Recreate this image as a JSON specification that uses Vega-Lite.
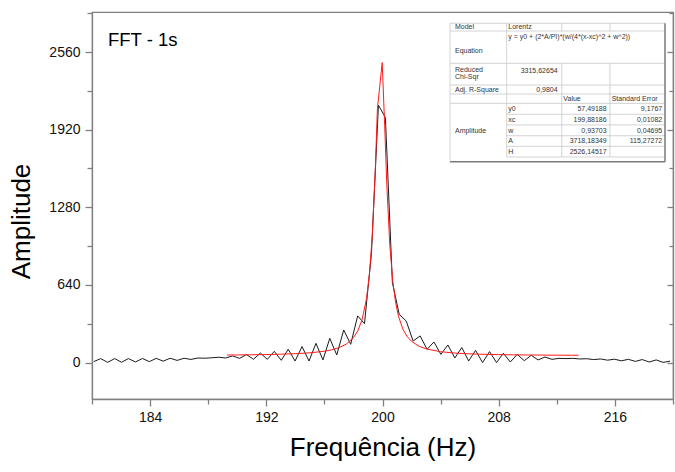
{
  "$schema": "https://vega.github.io/schema/vega-lite/v6.json",
  "width": 581,
  "height": 387,
  "autosize": {"type": "none"},
  "padding": {"left": 92, "top": 12, "right": 2, "bottom": 73},
  "background": "white",
  "config": {
    "view": {"stroke": "#808080", "strokeWidth": 1.2},
    "font": "Liberation Sans",
    "axis": {
      "grid": false,
      "domainColor": "#808080",
      "domainWidth": 1.3,
      "tickColor": "#808080",
      "tickWidth": 1.3,
      "labelColor": "#111111",
      "labelFont": "Liberation Sans",
      "labelFontSize": 14,
      "titleFont": "Liberation Sans",
      "titleFontWeight": "normal",
      "titleColor": "#000000"
    }
  },
  "datasets": {
    "fft": [
      {"f": 180.12, "amp": 8}, {"f": 180.60, "amp": 33}, {"f": 181.08, "amp": 2}, {"f": 181.56, "amp": 33},
      {"f": 182.03, "amp": 3}, {"f": 182.51, "amp": 33}, {"f": 182.99, "amp": 5}, {"f": 183.47, "amp": 34},
      {"f": 183.95, "amp": 8}, {"f": 184.42, "amp": 35}, {"f": 184.90, "amp": 12}, {"f": 185.38, "amp": 36},
      {"f": 185.86, "amp": 18}, {"f": 186.34, "amp": 36}, {"f": 186.81, "amp": 26}, {"f": 187.29, "amp": 38},
      {"f": 187.77, "amp": 36}, {"f": 188.25, "amp": 40}, {"f": 188.73, "amp": 44}, {"f": 189.20, "amp": 38},
      {"f": 189.68, "amp": 55}, {"f": 190.16, "amp": 35}, {"f": 190.64, "amp": 66}, {"f": 191.12, "amp": 27},
      {"f": 191.59, "amp": 79}, {"f": 192.07, "amp": 27}, {"f": 192.55, "amp": 93}, {"f": 193.03, "amp": 19},
      {"f": 193.51, "amp": 110}, {"f": 193.98, "amp": 13}, {"f": 194.46, "amp": 132}, {"f": 194.94, "amp": 13},
      {"f": 195.42, "amp": 159}, {"f": 195.90, "amp": 22}, {"f": 196.37, "amp": 200}, {"f": 196.85, "amp": 63},
      {"f": 197.33, "amp": 269}, {"f": 197.81, "amp": 151}, {"f": 198.29, "amp": 385}, {"f": 198.76, "amp": 321},
      {"f": 199.24, "amp": 900}, {"f": 199.72, "amp": 2122}, {"f": 200.20, "amp": 2020}, {"f": 200.68, "amp": 660},
      {"f": 201.15, "amp": 398}, {"f": 201.63, "amp": 343}, {"f": 202.11, "amp": 178}, {"f": 202.59, "amp": 220},
      {"f": 203.07, "amp": 110}, {"f": 203.54, "amp": 170}, {"f": 204.02, "amp": 68}, {"f": 204.50, "amp": 145},
      {"f": 204.98, "amp": 38}, {"f": 205.46, "amp": 124}, {"f": 205.93, "amp": 13}, {"f": 206.41, "amp": 101},
      {"f": 206.89, "amp": 0}, {"f": 207.37, "amp": 91}, {"f": 207.85, "amp": 0}, {"f": 208.32, "amp": 77},
      {"f": 208.80, "amp": 5}, {"f": 209.28, "amp": 68}, {"f": 209.76, "amp": 16}, {"f": 210.24, "amp": 60},
      {"f": 210.71, "amp": 22}, {"f": 211.19, "amp": 46}, {"f": 211.67, "amp": 27}, {"f": 212.15, "amp": 35},
      {"f": 212.63, "amp": 33}, {"f": 213.10, "amp": 35}, {"f": 213.58, "amp": 30}, {"f": 214.06, "amp": 32},
      {"f": 214.54, "amp": 25}, {"f": 215.02, "amp": 30}, {"f": 215.49, "amp": 20}, {"f": 215.97, "amp": 28},
      {"f": 216.45, "amp": 15}, {"f": 216.93, "amp": 27}, {"f": 217.41, "amp": 10}, {"f": 217.88, "amp": 25},
      {"f": 218.36, "amp": 5}, {"f": 218.84, "amp": 22}, {"f": 219.32, "amp": 2}, {"f": 219.80, "amp": 12}
    ],
    "fit": [
      {"f": 189.3, "amp": 62.4}, {"f": 190, "amp": 63.2}, {"f": 191, "amp": 64.5}, {"f": 192, "amp": 66.4},
      {"f": 193, "amp": 69.2}, {"f": 194, "amp": 73.4}, {"f": 195, "amp": 80.6}, {"f": 196, "amp": 93.8},
      {"f": 196.5, "amp": 105.1}, {"f": 197, "amp": 122.6}, {"f": 197.5, "amp": 151.7}, {"f": 198, "amp": 205.2},
      {"f": 198.3, "amp": 261.7}, {"f": 198.6, "amp": 355.9}, {"f": 198.9, "amp": 527.4}, {"f": 199.1, "amp": 727.2},
      {"f": 199.3, "amp": 1055}, {"f": 199.5, "amp": 1581}, {"f": 199.65, "amp": 2093}, {"f": 199.98, "amp": 2473},
      {"f": 200.15, "amp": 1954}, {"f": 200.3, "amp": 1458}, {"f": 200.5, "amp": 975.7}, {"f": 200.7, "amp": 679.2},
      {"f": 200.9, "amp": 497.6}, {"f": 201.1, "amp": 382.2}, {"f": 201.4, "amp": 276.7}, {"f": 201.7, "amp": 214.5},
      {"f": 202, "amp": 175.1}, {"f": 202.5, "amp": 135.8}, {"f": 203, "amp": 113.2}, {"f": 204, "amp": 89.7},
      {"f": 205, "amp": 78.5}, {"f": 206, "amp": 72.2}, {"f": 207, "amp": 68.4}, {"f": 208, "amp": 65.9},
      {"f": 209, "amp": 64.1}, {"f": 210, "amp": 62.9}, {"f": 211, "amp": 62.0}, {"f": 212, "amp": 61.3},
      {"f": 213, "amp": 60.7}, {"f": 213.5, "amp": 60.5}
    ],
    "note": [
      {"label": "FFT - 1s", "f": 181.1, "amp": 2659}
    ],
    "grid": [
      {"kind": "inner", "x1": 204.65, "x2": 219.45, "y1": 2797, "y2": 2797},
      {"kind": "inner", "x1": 204.65, "x2": 219.45, "y1": 2733, "y2": 2733},
      {"kind": "inner", "x1": 204.65, "x2": 219.45, "y1": 2467, "y2": 2467},
      {"kind": "inner", "x1": 204.65, "x2": 219.45, "y1": 2288, "y2": 2288},
      {"kind": "inner", "x1": 204.65, "x2": 219.45, "y1": 2214, "y2": 2214},
      {"kind": "inner", "x1": 204.65, "x2": 219.45, "y1": 2137, "y2": 2137},
      {"kind": "inner", "x1": 208.55, "x2": 219.45, "y1": 2047, "y2": 2047},
      {"kind": "inner", "x1": 208.55, "x2": 219.45, "y1": 1959, "y2": 1959},
      {"kind": "inner", "x1": 208.55, "x2": 219.45, "y1": 1870, "y2": 1870},
      {"kind": "inner", "x1": 208.55, "x2": 219.45, "y1": 1783, "y2": 1783},
      {"kind": "inner", "x1": 208.55, "x2": 219.45, "y1": 1695, "y2": 1695},
      {"kind": "inner", "x1": 204.65, "x2": 204.65, "y1": 2797, "y2": 1656},
      {"kind": "inner", "x1": 208.55, "x2": 208.55, "y1": 2797, "y2": 1695},
      {"kind": "inner", "x1": 212.34, "x2": 212.34, "y1": 2797, "y2": 2733},
      {"kind": "inner", "x1": 212.34, "x2": 212.34, "y1": 2467, "y2": 1695},
      {"kind": "inner", "x1": 215.66, "x2": 215.66, "y1": 2797, "y2": 2733},
      {"kind": "inner", "x1": 215.66, "x2": 215.66, "y1": 2467, "y2": 1695},
      {"kind": "outer", "x1": 204.65, "x2": 219.45, "y1": 1656, "y2": 1656},
      {"kind": "outer", "x1": 219.45, "x2": 219.45, "y1": 2797, "y2": 1656}
    ],
    "cells": [
      {"kind": "l", "text": "Model", "f": 204.99, "amp": 2766},
      {"kind": "l", "text": "Lorentz", "f": 208.66, "amp": 2766},
      {"kind": "l", "text": "y = y0 + (2*A/PI)*(w/(4*(x-xc)^2 + w^2))", "f": 208.66, "amp": 2681},
      {"kind": "l", "text": "Equation", "f": 204.99, "amp": 2571},
      {"kind": "l", "text": "Reduced", "f": 204.99, "amp": 2412},
      {"kind": "l", "text": "Chi-Sqr", "f": 204.99, "amp": 2357},
      {"kind": "l", "text": "Adj. R-Square", "f": 204.99, "amp": 2247},
      {"kind": "l", "text": "Value", "f": 212.45, "amp": 2173},
      {"kind": "l", "text": "Standard Error", "f": 215.78, "amp": 2173},
      {"kind": "l", "text": "Amplitude", "f": 204.99, "amp": 1909},
      {"kind": "l", "text": "y0", "f": 208.66, "amp": 2093},
      {"kind": "l", "text": "xc", "f": 208.66, "amp": 2000},
      {"kind": "l", "text": "w", "f": 208.66, "amp": 1912},
      {"kind": "l", "text": "A", "f": 208.66, "amp": 1827},
      {"kind": "l", "text": "H", "f": 208.66, "amp": 1736},
      {"kind": "r", "text": "3315,62654", "f": 212.06, "amp": 2404},
      {"kind": "r", "text": "0,9804", "f": 212.06, "amp": 2247},
      {"kind": "r", "text": "57,49188", "f": 215.43, "amp": 2093},
      {"kind": "r", "text": "199,88186", "f": 215.43, "amp": 2000},
      {"kind": "r", "text": "0,93703", "f": 215.43, "amp": 1912},
      {"kind": "r", "text": "3718,18349", "f": 215.43, "amp": 1827},
      {"kind": "r", "text": "2526,14517", "f": 215.43, "amp": 1736},
      {"kind": "r", "text": "9,1767", "f": 219.26, "amp": 2093},
      {"kind": "r", "text": "0,01082", "f": 219.26, "amp": 2000},
      {"kind": "r", "text": "0,04695", "f": 219.26, "amp": 1912},
      {"kind": "r", "text": "115,27272", "f": 219.26, "amp": 1827}
    ]
  },
  "layer": [
    {
      "data": {"name": "fft"},
      "mark": {"type": "line", "color": "#1a1a1a", "strokeWidth": 1},
      "encoding": {
        "x": {
          "field": "f", "type": "quantitative",
          "scale": {"domain": [180, 220], "nice": false, "zero": false},
          "axis": {
            "title": "Frequência (Hz)",
            "titleFontSize": 26,
            "titlePadding": 10,
            "values": [180, 184, 188, 192, 196, 200, 204, 208, 212, 216, 220],
            "labelExpr": "(datum.value - 184) % 8 === 0 ? datum.label : ''",
            "labelPadding": 4,
            "labelFlush": false,
            "tickSize": {"condition": {"test": "(datum.value - 184) % 8 === 0", "value": 7}, "value": 5}
          }
        },
        "y": {
          "field": "amp", "type": "quantitative",
          "scale": {"domain": [-300, 2890], "nice": false, "zero": false},
          "axis": {
            "title": "Amplitude",
            "titleFontSize": 26,
            "titlePadding": 14,
            "titleY": 209,
            "format": "d",
            "values": [0, 320, 640, 960, 1280, 1600, 1920, 2240, 2560, 2880],
            "labelExpr": "datum.value % 640 === 0 ? datum.label : ''",
            "labelPadding": 5,
            "labelFlush": false,
            "tickSize": {"condition": {"test": "datum.value % 640 === 0", "value": 7}, "value": 5}
          }
        }
      }
    },
    {
      "data": {"name": "fit"},
      "mark": {"type": "line", "color": "#ff1a1a", "strokeWidth": 1},
      "encoding": {
        "x": {"field": "f", "type": "quantitative", "axis": null},
        "y": {
          "field": "amp", "type": "quantitative",
          "axis": {
            "orient": "right",
            "title": null,
            "labels": false,
            "values": [0, 320, 640, 960, 1280, 1600, 1920, 2240, 2560, 2880],
            "tickSize": {"condition": {"test": "datum.value % 640 === 0", "value": -6}, "value": -4}
          }
        }
      }
    },
    {
      "data": {"name": "note"},
      "mark": {"type": "text", "align": "left", "baseline": "middle", "fontSize": 18.5, "color": "#000000"},
      "encoding": {
        "x": {"field": "f", "type": "quantitative", "axis": null},
        "y": {"field": "amp", "type": "quantitative", "axis": null},
        "text": {"field": "label"}
      }
    },
    {
      "data": {"name": "grid"},
      "transform": [{"filter": "datum.kind === 'inner'"}],
      "mark": {"type": "rule", "color": "#c8c8c8", "strokeWidth": 0.8},
      "encoding": {
        "x": {"field": "x1", "type": "quantitative", "axis": null},
        "x2": {"field": "x2"},
        "y": {"field": "y1", "type": "quantitative", "axis": null},
        "y2": {"field": "y2"}
      }
    },
    {
      "data": {"name": "grid"},
      "transform": [{"filter": "datum.kind === 'outer'"}],
      "mark": {"type": "rule", "color": "#7a7a7a", "strokeWidth": 1.5},
      "encoding": {
        "x": {"field": "x1", "type": "quantitative", "axis": null},
        "x2": {"field": "x2"},
        "y": {"field": "y1", "type": "quantitative", "axis": null},
        "y2": {"field": "y2"}
      }
    },
    {
      "data": {"name": "cells"},
      "transform": [{"filter": "datum.kind === 'l'"}],
      "mark": {"type": "text", "align": "left", "baseline": "middle", "fontSize": 7, "color": "#333333"},
      "encoding": {
        "x": {"field": "f", "type": "quantitative", "axis": null},
        "y": {"field": "amp", "type": "quantitative", "axis": null},
        "text": {"field": "text"}
      }
    },
    {
      "data": {"name": "cells"},
      "transform": [{"filter": "datum.kind === 'r'"}],
      "mark": {"type": "text", "align": "right", "baseline": "middle", "fontSize": 7, "color": "#333333"},
      "encoding": {
        "x": {"field": "f", "type": "quantitative", "axis": null},
        "y": {"field": "amp", "type": "quantitative", "axis": null},
        "text": {"field": "text"}
      }
    }
  ],
  "resolve": {"axis": {"x": "independent", "y": "independent"}}
}
